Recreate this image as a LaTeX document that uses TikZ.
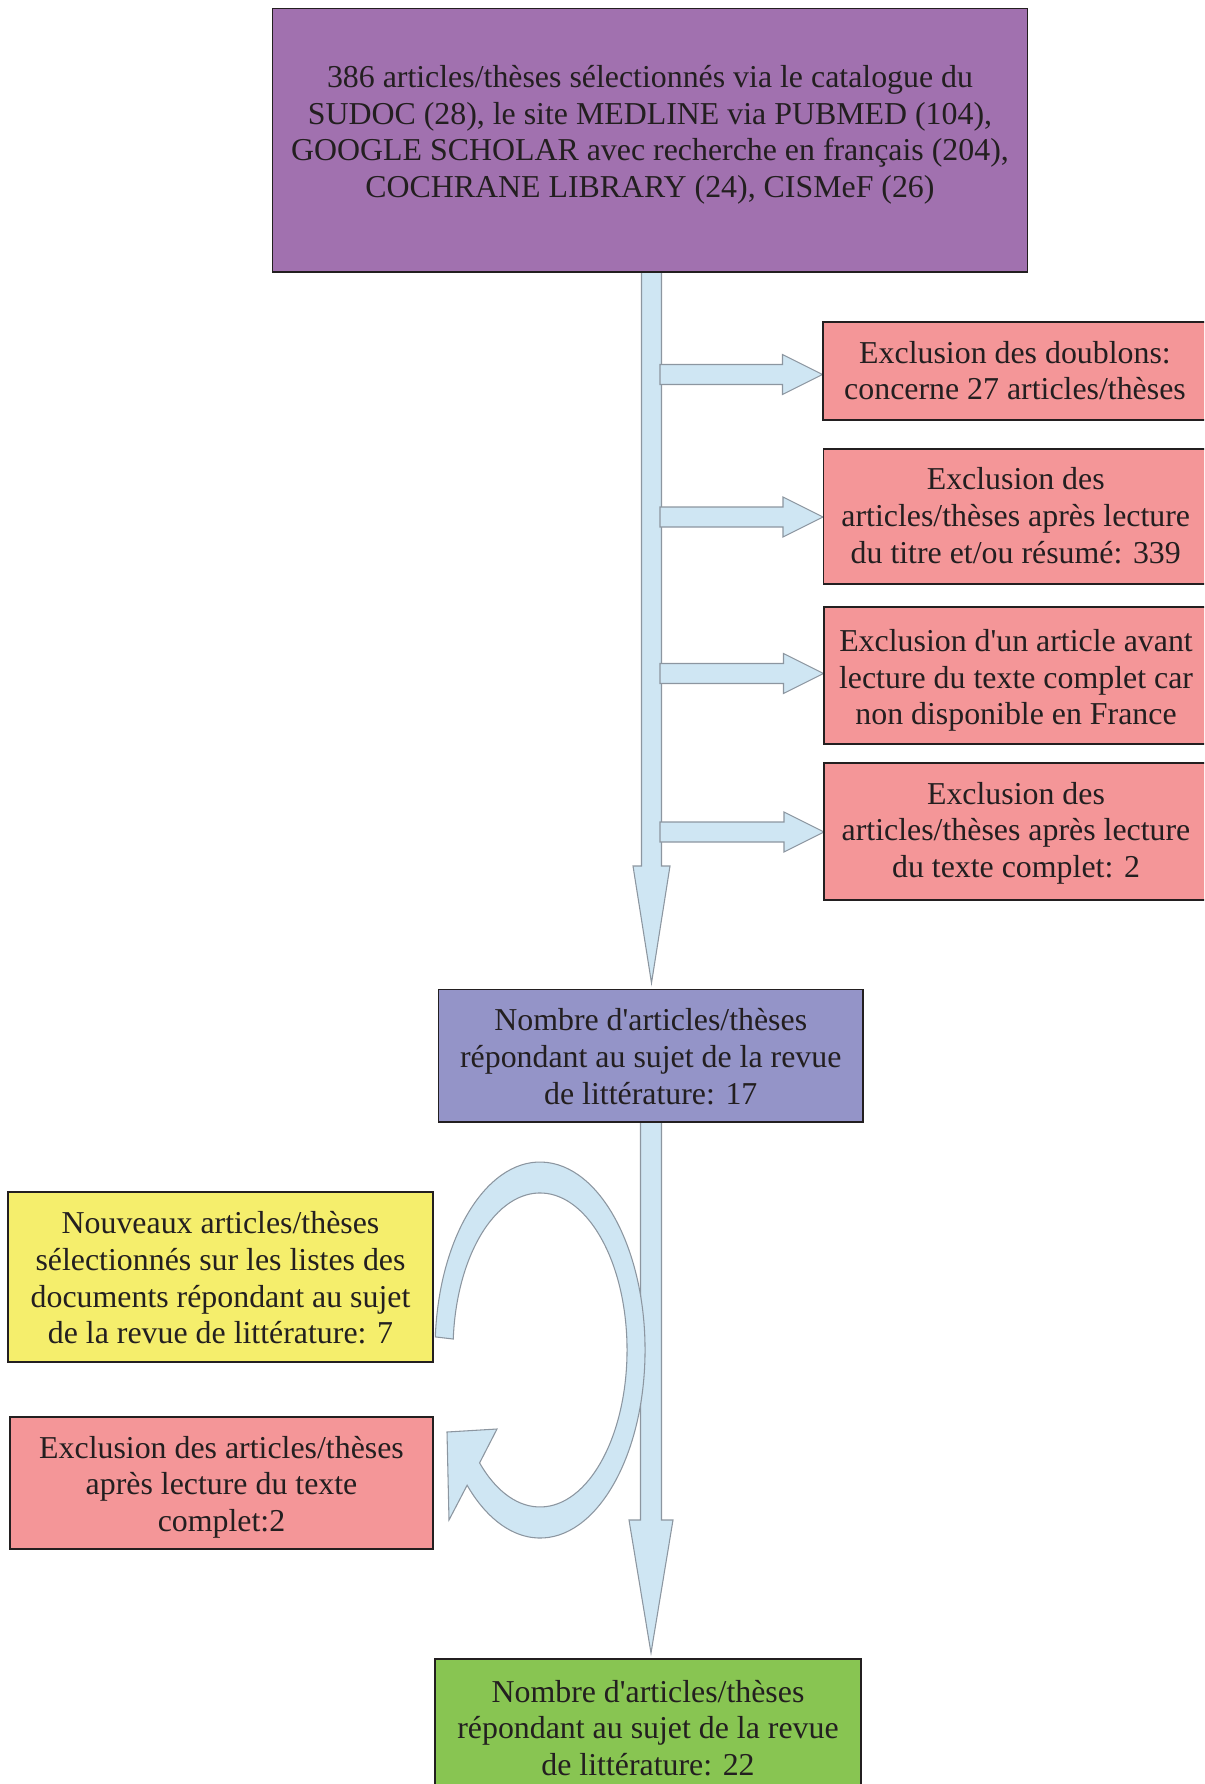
\documentclass[tikz,border=0pt]{standalone}
\usepackage{fontspec}
\setmainfont{Liberation Serif}
\usetikzlibrary{fit,calc}
\definecolor{cpurple}{RGB}{161,113,175}
\definecolor{cpink}{RGB}{244,150,152}
\definecolor{cyellow}{RGB}{245,238,108}
\definecolor{cgreen}{RGB}{136,197,82}
\definecolor{cslate}{RGB}{148,148,200}
\definecolor{cblue}{RGB}{207,230,243}
\definecolor{cedge}{RGB}{140,150,160}
\definecolor{ctext}{RGB}{35,31,32}
\newcommand\rightblock[2]{%
  \draw[barrow] ($(#1)+(0,10)$) -- ($(#2)+(-40,10)$) -- ($(#2)+(-40,20)$) -- (#2)
    -- ($(#2)+(-40,-20)$) -- ($(#2)+(-40,-10)$) -- ($(#1)+(0,-10)$) -- cycle;}
\begin{document}
\begin{tikzpicture}[x=0.75pt,y=0.75pt,
  txt/.style={align=center, text=ctext, inner sep=0pt, font=\fontsize{23.9pt}{27.5pt}\selectfont},
  box/.style={draw=ctext, line width=1.1pt, inner sep=0pt},
  barrow/.style={fill=cblue, draw=cedge, line width=0.8pt, line join=miter}]
\useasboundingbox (0,0) rectangle (1204,-1784);
\clip (0,0) rectangle (1204,-1784);

% main vertical arrow 1
\coordinate (a1s) at (651.5,-272);
\coordinate (a1t) at (651.5,-983);
\draw[barrow] ($(a1s)+(-10,0)$) -- ($(a1t)+(-10,117)$) -- ($(a1t)+(-18.5,117)$) -- (a1t)
  -- ($(a1t)+(18.5,117)$) -- ($(a1t)+(10,117)$) -- ($(a1s)+(10,0)$) -- cycle;

% side arrows
\coordinate (r1s) at (660,-374.5); \coordinate (r1t) at (822.5,-374.5);
\coordinate (r2s) at (660,-517);   \coordinate (r2t) at (823,-517);
\coordinate (r3s) at (660,-673.5); \coordinate (r3t) at (823.5,-673.5);
\coordinate (r4s) at (660,-832);   \coordinate (r4t) at (824,-832);
\rightblock{r1s}{r1t}
\rightblock{r2s}{r2t}
\rightblock{r3s}{r3t}
\rightblock{r4s}{r4t}

% main vertical arrow 2
\coordinate (a2s) at (651,-1122);
\coordinate (a2t) at (651,-1653);
\draw[barrow] ($(a2s)+(-10.5,0)$) -- ($(a2t)+(-10.5,133)$) -- ($(a2t)+(-22,133)$) -- (a2t)
  -- ($(a2t)+(22,133)$) -- ($(a2t)+(10.5,133)$) -- ($(a2s)+(10.5,0)$) -- cycle;

% curved arrow
\draw[barrow] (435.3,-1336.9) arc[start angle=176, end angle=-134, x radius=105, y radius=188]
  -- (449,-1520) -- (447,-1432) -- (497,-1429) -- (479.6,-1462.9)
  arc[start angle=-134, end angle=176, x radius=87, y radius=157] -- cycle;

% boxes
\node[box, fill=cpurple, fit={(272.5,-8.5)(1027.5,-272)}] (top) {};
\node[txt] (toptext) at ($(top.center)+(0,5.6)$) {386 articles/thèses sélectionnés via le catalogue du\\SUDOC (28), le site MEDLINE via PUBMED (104),\\GOOGLE SCHOLAR avec recherche en français (204),\\COCHRANE LIBRARY (24), CISMeF (26)};

\node[box, fill=cpink, fit={(823,-322)(1207,-420)}] (ex1) {};
\node[txt] (ex1t) at ($(ex1.center)+(0,0.5)$) {Exclusion des doublons:\\concerne 27 articles/thèses};
\node[box, fill=cpink, fit={(823.5,-449)(1208,-584)}] (ex2) {};
\node[txt] (ex2t) at ($(ex2.center)+(0,1)$) {Exclusion des\\articles/thèses après lecture\\du titre et/ou résumé: 339};
\node[box, fill=cpink, fit={(824,-607)(1208,-744)}] (ex3) {};
\node[txt] (ex3t) at ($(ex3.center)+(0,-5)$) {Exclusion d\textquotesingle un article avant\\lecture du texte complet car\\non disponible en France};
\node[box, fill=cpink, fit={(824,-763)(1208,-900)}] (ex4) {};
\node[txt] (ex4t) at ($(ex4.center)+(0,-1.6)$) {Exclusion des\\articles/thèses après lecture\\du texte complet: 2};

\node[box, fill=cslate, fit={(438.5,-989.5)(863,-1122)}] (mid) {};
\node[txt] (midt) at ($(mid.center)+(0,-1)$) {Nombre d\textquotesingle articles/thèses\\répondant au sujet de la revue\\de littérature: 17};

\node[box, fill=cyellow, fit={(8,-1192)(433,-1362)}] (new) {};
\node[txt] (newt) at ($(new.center)+(0,-1)$) {Nouveaux articles/thèses\\sélectionnés sur les listes des\\documents répondant au sujet\\de la revue de littérature: 7};
\node[box, fill=cpink, fit={(10,-1417)(433,-1549)}] (exl) {};
\node[txt] (exlt) at ($(exl.center)+(0,-4)$) {Exclusion des articles/thèses\\après lecture du texte\\complet:2};

\node[box, fill=cgreen, fit={(435,-1659)(861,-1799)}] (fin) {};
\node[txt] (fint) at ($(fin.center)+(0,1)$) {Nombre d\textquotesingle articles/thèses\\répondant au sujet de la revue\\de littérature: 22};
\end{tikzpicture}
\end{document}
